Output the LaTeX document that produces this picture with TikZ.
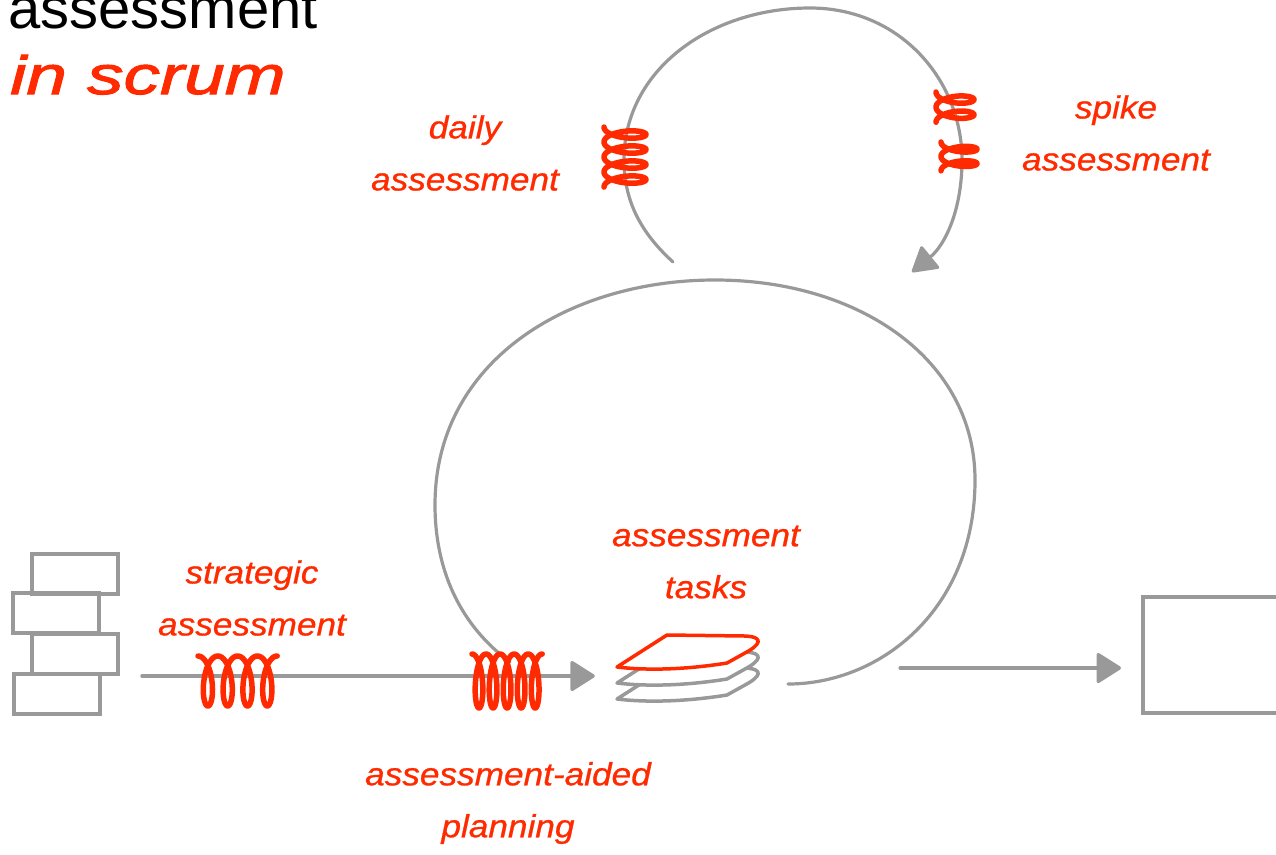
\documentclass[tikz,border=0pt]{standalone}
\usepackage{fontspec}
\setmainfont{Liberation Sans}
\newfontfamily\handfont{Liberation Sans}[FakeStretch=1.1,FakeBold=0.8]
\newfontfamily\handtitle{Liberation Sans}[FakeStretch=1.35,FakeBold=2]
\usetikzlibrary{arrows.meta}
\definecolor{inkred}{RGB}{255,42,0}
\definecolor{sketch}{RGB}{153,153,153}

\tikzset{
  sketchline/.style={draw=sketch, line width=3.2pt, line cap=round, line join=round},
  flow/.style={sketchline, line width=3.5pt, -{Triangle[length=26pt,width=32pt,round]}},
  brick/.style={draw=sketch, line width=4pt, rectangle, minimum width=86pt, minimum height=40pt, inner sep=0pt},
  card/.style={draw=sketch, line width=3.5pt, fill=white, line join=round},
  coil/.style={draw=inkred, line width=5.5pt, line cap=round, line join=round},
  handlabel/.style={text=inkred, align=center, inner sep=0pt,
    font=\handfont\itshape\fontsize{32}{52}\selectfont},
}

\begin{document}
\begin{tikzpicture}[x=1pt, y=-1pt]
\useasboundingbox (0,0) rectangle (1276,854);

% title
\node[anchor=base west, inner sep=0pt, font=\fontsize{58}{60}\selectfont] (title) at (8,28) {assessment};
\node[anchor=base west, inner sep=0pt, text=inkred, font=\handtitle\itshape\fontsize{54}{56}\selectfont] (subtitle) at (10,94) {in scrum};

% product backlog: stacked bricks
\node[brick] (b1) at (75,574) {};
\node[brick] (b2) at (56,613) {};
\node[brick] (b3) at (75,654) {};
\node[brick] (b4) at (57,694) {};

% increment box on the right
\node[draw=sketch, line width=4pt, rectangle, minimum width=150pt, minimum height=116pt, inner sep=0pt] (done) at (1218,655) {};

% sprint backlog: stack of task cards
\node[minimum width=144pt, minimum height=76pt, inner sep=0pt] (tasks) at (688,668) {};
\foreach \dy in {32,16} {
  \draw[card] (617,667+\dy) -- (667,635+\dy) -- (745,636+\dy)
    .. controls (765,637+\dy) and (760,645+\dy) .. (745,653+\dy)
    -- (727,663+\dy) .. controls (690,669+\dy) and (650,671+\dy) .. cycle;
}
\draw[card, draw=inkred] (617,667) -- (667,635) -- (745,636)
  .. controls (765,637) and (760,645) .. (745,653)
  -- (727,663) .. controls (690,669) and (650,671) .. cycle;

% main flow
\draw[flow] ([xshift=22pt]b3.south east) -- ([xshift=-21pt]tasks.west |- b3.south east);
\draw[flow] ([xshift=140pt]tasks.east) -- ([xshift=-20pt]done.west |- tasks.east);

% sprint loop
\coordinate (sprintstart) at (510,662);
\coordinate (sprintend) at (788,684);
\draw[sketchline] (sprintstart) .. controls (460,625) and (435,570) .. (435,505)
  .. controls (435,360) and (570,280) .. (715,280)
  .. controls (860,280) and (975,360) .. (975,480)
  .. controls (975,610) and (880,684) .. (sprintend);

% daily loop
\coordinate (dailystart) at (673,262);
\coordinate (dailyend) at (912,272);
\draw[sketchline, -{Triangle[length=26pt,width=30pt,round]}] (dailystart)
  .. controls (640,232) and (624,200) .. (624,160)
  .. controls (624,70) and (710,8) .. (810,8)
  .. controls (900,8) and (962,80) .. (962,160)
  .. controls (962,210) and (945,245) .. (dailyend);

% assessment coils
\draw[coil] plot[variable=\t, domain=0:1440, samples=240, smooth]
  ({198 + 0.055*\t + 9*sin(\t)}, {681 - 25*cos(\t)});
\draw[coil] plot[variable=\t, domain=0:1800, samples=280, smooth]
  ({472 + 0.039*\t + 7*sin(\t)}, {681 - 27*cos(\t)});
\draw[coil] plot[variable=\t, domain=0:1440, samples=240, smooth]
  ({625 - 21*cos(\t)}, {127 + 0.0417*\t + 7*sin(\t)});
\draw[coil] plot[variable=\t, domain=0:720, samples=140, smooth]
  ({955 - 19*cos(\t)}, {92 + 0.042*\t + 7*sin(\t)});
\draw[coil] plot[variable=\t, domain=0:720, samples=140, smooth]
  ({959 - 18*cos(\t)}, {142 + 0.04*\t + 6*sin(\t)});

% labels
\node[handlabel] (daily) at (465,153) {daily\\assessment};
\node[handlabel] (spike) at (1116,133) {spike\\assessment};
\node[handlabel] (tasklabel) at (706,562) {assessment\\tasks};
\node[handlabel] (strategic) at (252,598) {strategic\\assessment};
\node[handlabel] (planning) at (508,803) {assessment-aided\\planning};
\end{tikzpicture}
\end{document}
